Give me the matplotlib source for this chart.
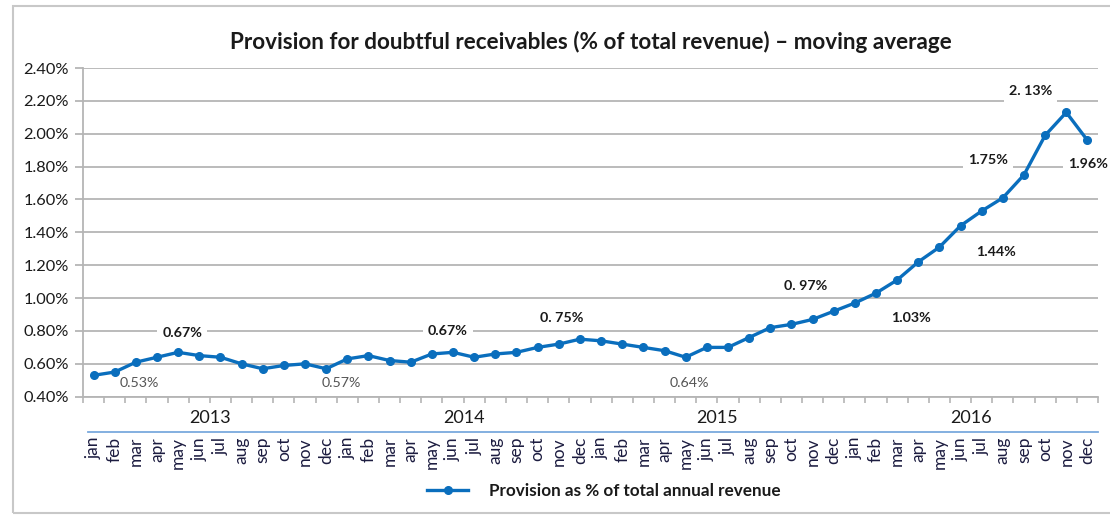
import numpy as np
import matplotlib.pyplot as plt
from matplotlib.lines import Line2D
from matplotlib.patches import Rectangle

#- datos
meses = ['jan', 'feb', 'mar', 'apr', 'may', 'jun', 'jul', 'aug', 'sep', 'oct', 'nov', 'dec']
anios = ['2013', '2014', '2015', '2016']
provision = [0.53, 0.55, 0.61, 0.64, 0.67, 0.65, 0.64, 0.60, 0.57, 0.59, 0.60, 0.57,
             0.63, 0.65, 0.62, 0.61, 0.66, 0.67, 0.64, 0.66, 0.67, 0.70, 0.72, 0.75,
             0.74, 0.72, 0.70, 0.68, 0.64, 0.70, 0.70, 0.76, 0.82, 0.84, 0.87, 0.92,
             0.97, 1.03, 1.11, 1.22, 1.31, 1.44, 1.53, 1.61, 1.75, 1.99, 2.13, 1.96]

#- etiquetas: indice del punto, texto, desplazamiento (px), negrita
etq_idx = [0, 4, 11, 17, 23, 28, 36, 37, 41, 44, 46, 47]
etq_txt = ['0.53%', '0.67%', '0.57%', '0.67%', '0. 75%', '0.64%',
           '0. 97%', '1.03%', '1.44%', '1.75%', '2. 13%', '1.96%']
etq_off = [(46, -8), (4, 19), (15, -14), (-5, 21), (-18, 21), (4, -26),
           (-49, 17), (35, -25), (35, -26), (-36, 15), (-36, 21), (1, -24)]
etq_bold = [False, True, False, True, True, False, True, True, True, True, True, True]

plt.rcParams['font.family'] = ['Lato', 'DejaVu Sans']
azul = '#0A6EBD'
gris = '#b5b5b5'
texto = '#1a1a1a'

fig = plt.figure(figsize=(11.1, 5.16), dpi=100)
ax = fig.add_axes([83/1110, 1-396.7/516, (1098-83)/1110, (396.7-68)/516])

x = np.arange(len(provision))
ax.plot(x, provision, color=azul, lw=2.4, marker='o', ms=5.5,
        solid_joinstyle='round', label='Provision as % of total annual revenue', zorder=3)

ax.set_xlim(-0.5, len(provision) - 0.5)
ax.set_ylim(0.4, 2.4)
yt = np.arange(0.4, 2.41, 0.2)
ax.set_yticks(yt)
ax.set_yticklabels(['%.2f%%' % v for v in yt], fontsize=11.8, color=texto)
ax.yaxis.grid(True, color=gris, lw=1.3)
ax.set_axisbelow(True)
ax.tick_params(axis='y', length=6, color=gris, width=1.3, pad=4)

#- eje x: meses rotados, marcas en los limites
ax.set_xticks(x)
ax.set_xticklabels(meses * len(anios), rotation=90, fontsize=12.5, color='#1c1c40', va='top')
ax.tick_params(axis='x', which='major', length=0, pad=29)
ax.set_xticks(np.arange(-0.5, len(provision), 1), minor=True)
ax.tick_params(axis='x', which='minor', length=4, color=gris, width=1.2)

for s in ['top', 'right']:
    ax.spines[s].set_visible(False)
ax.spines['left'].set_color(gris)
ax.spines['left'].set_linewidth(1.3)
ax.spines['bottom'].set_color(gris)
ax.spines['bottom'].set_linewidth(1.3)

#- anios
for k, a in enumerate(anios):
    ax.annotate(a, xy=(k * 12 + 5.5, 0), xycoords=('data', 'axes fraction'),
                xytext=(0, -21), textcoords='offset pixels',
                ha='center', va='center', fontsize=13, color=texto)
ax.add_line(Line2D([0.005, 1.0], [-0.108, -0.108], transform=ax.transAxes,
                   color='#7aa9dd', lw=1.3, clip_on=False))

#- etiquetas de datos
for i, t, (dx, dy), b in zip(etq_idx, etq_txt, etq_off, etq_bold):
    if b:
        ax.annotate(t, xy=(i, provision[i]), xytext=(dx, dy), textcoords='offset pixels',
                    ha='center', va='center', fontsize=10.3, fontweight='bold', color=texto,
                    bbox=dict(boxstyle='square,pad=0.35', fc='white', ec='none'), zorder=4)
    else:
        ax.annotate(t, xy=(i, provision[i]), xytext=(dx, dy), textcoords='offset pixels',
                    ha='center', va='center', fontsize=10.3, color='#555555', zorder=4)

fig.text(591/1110, 1-42/516, u'Provision for doubtful receivables (% of total revenue) \u2013 moving average',
         ha='center', va='center', fontsize=16.2, fontweight='bold', color=texto)

fig.legend(loc='center', bbox_to_anchor=(604/1110, 1-491/516), frameon=False,
           prop={'weight': 'bold', 'size': 12.3}, handlelength=2.4, handletextpad=1.2,
           labelcolor=texto)

#- marco del grafico
fig.add_artist(Rectangle((13/1110, 3/516), 1.1, 1-9/516, transform=fig.transFigure,
                         fill=False, ec='#c8c8c8', lw=1.5))

plt.savefig('out.png', dpi=100)
plt.close()
